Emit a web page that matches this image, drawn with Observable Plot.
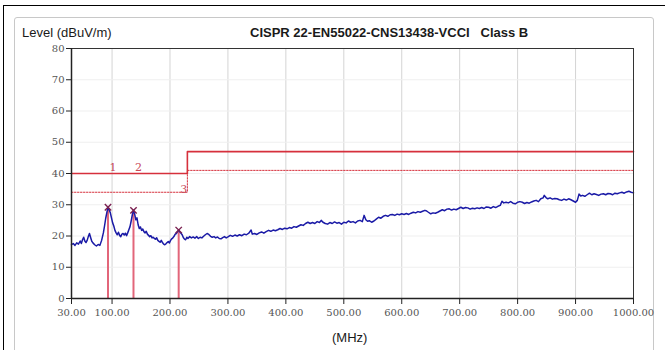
<!DOCTYPE html>
<html>
<head>
<meta charset="utf-8">
<script src="https://cdn.jsdelivr.net/npm/d3@7"></script>
<script src="https://cdn.jsdelivr.net/npm/@observablehq/plot@0.6"></script>
<style>
  html, body { margin: 0; padding: 0; background: #fff; }
  #wrap { position: relative; width: 665px; height: 350px; overflow: hidden; background: #fff; }
  #outer { position: absolute; left: 3px; top: 5px; width: 700px; height: 400px; border-left: 1px solid #000; border-top: 1px solid #000; }
  #inner { position: absolute; left: 14px; top: 17px; width: 638px; height: 400px; border: 1px solid #c8c8c8; border-radius: 3px; }
  #chart { position: absolute; left: 0; top: 0; }
  .lbl { position: absolute; font-family: "Liberation Sans", Arial, sans-serif; font-size: 13px; color: #1a1a1a; white-space: pre; line-height: 15px; }
</style>
</head>
<body>
<div id="wrap">
  <div id="outer"></div>
  <div id="inner"></div>
  <div id="chart"></div>
  <div class="lbl" style="left:22px; top:25px;">Level (dBuV/m)</div>
  <div class="lbl" style="left:250px; top:25px; font-weight:bold;">CISPR 22-EN55022-CNS13438-VCCI   Class B</div>
  <div class="lbl" style="left:332px; top:330px;">(MHz)</div>
</div>
<script>
// ---- data ----
const xTicks = [30, 100, 200, 300, 400, 500, 600, 700, 800, 900, 1000];
const yTicks = [0, 10, 20, 30, 40, 50, 60, 70, 80];

const limitFreq = [30, 230, 230, 1000];
const limitQP = [40, 40, 47, 47];
const limitMargin = [34, 34, 41, 41];

const markerId = ["1", "2", "3"];
const markerFreq = [93, 137, 215];
const markerLevel = [29.2, 28.2, 21.9];

// measured trace: [MHz, dBuV/m]
const trace = [
  [30,17.2],[33,17.6],[36,17.0],[39,17.8],[42,17.4],[45,18.4],[47,17.6],[49,18.8],[51,19.6],[53,18.4],
  [55,17.9],[57,18.6],[59,19.8],[61,20.8],[63,19.5],[65,18.3],[67,17.8],[70,17.2],[73,16.8],[76,17.3],
  [79,17.0],[82,18.6],[85,21.0],[87,23.2],[89,25.6],[91,27.5],[93,29.2],[95,28.4],[97,27.4],[99,25.8],
  [101,24.2],[103,23.2],[105,21.8],[107,21.0],[109,20.4],[111,21.2],[113,20.2],[115,19.8],[117,20.6],[119,20.8],
  [121,20.3],[123,20.9],[125,20.1],[127,21.0],[129,22.0],[131,23.0],[133,24.8],[135,26.8],[137,28.2],[139,27.0],
  [141,25.2],[143,25.8],[145,23.6],[147,22.4],[149,22.9],[151,21.8],[153,22.2],[155,21.4],[157,21.0],[159,21.5],
  [161,20.6],[163,20.2],[165,19.8],[167,20.1],[169,19.4],[171,19.6],[173,19.2],[175,19.0],[177,19.4],[179,18.6],
  [181,18.3],[183,18.0],[185,18.6],[187,17.9],[189,17.4],[191,17.2],[193,17.5],[195,17.9],[197,18.2],[199,17.8],
  [201,18.6],[203,19.1],[205,19.4],[207,19.9],[209,20.6],[211,20.8],[213,21.4],[215,21.9],[217,21.3],[219,20.9],
  [221,20.4],[223,19.5],[225,19.0],[227,18.8],[229,19.6],[231,19.2],[234,19.8],[237,19.4],[240,19.7],[243,19.3],
  [246,19.8],[249,19.2],[252,19.6],[255,19.4],[258,19.9],[261,20.4],[264,20.8],[267,20.5],[270,19.9],[273,19.6],
  [276,19.8],[279,19.4],[282,19.7],[285,19.2],[288,19.1],[291,19.5],[294,19.8],[297,19.4],[300,19.7],[304,20.2],
  [308,19.9],[312,20.3],[316,20.0],[320,20.4],[324,20.1],[328,20.6],[332,20.4],[336,20.9],[340,21.9],[342,20.6],
  [346,20.8],[350,20.5],[354,21.0],[358,21.3],[362,20.9],[366,21.4],[370,21.8],[374,21.5],[378,21.9],[382,21.7],
  [386,22.0],[390,22.4],[394,22.1],[398,22.5],[402,22.3],[406,22.7],[410,22.5],[414,23.0],[418,22.8],[422,23.2],
  [426,23.6],[430,23.4],[434,24.0],[438,24.4],[442,24.0],[446,24.3],[450,24.0],[454,24.6],[458,24.3],[461,25.0],
  [464,24.4],[468,24.0],[472,23.8],[476,24.3],[480,24.0],[484,24.5],[488,24.1],[492,24.3],[496,23.8],[500,24.4],
  [504,24.2],[508,24.8],[512,24.4],[516,24.6],[520,24.2],[524,24.8],[528,25.0],[532,24.6],[535,26.6],[538,25.2],
  [541,24.7],[544,24.9],[548,24.4],[552,24.8],[556,25.4],[560,26.0],[564,25.7],[568,26.3],[572,26.6],[576,26.3],
  [580,26.8],[584,26.9],[588,26.6],[592,27.0],[596,26.8],[600,27.1],[604,26.9],[608,27.2],[612,26.9],[616,27.3],
  [620,27.6],[624,27.4],[628,27.8],[632,27.6],[636,27.9],[640,28.2],[643,28.0],[646,27.6],[650,27.1],[654,27.4],
  [658,27.3],[662,27.6],[666,28.0],[670,28.4],[674,28.1],[678,28.6],[682,28.7],[686,28.3],[690,28.6],[694,28.4],
  [698,28.8],[702,29.2],[706,28.8],[710,29.1],[714,29.0],[718,28.6],[722,28.9],[726,28.7],[730,29.0],[734,28.8],
  [738,29.1],[742,28.8],[746,29.3],[750,29.2],[754,28.9],[758,29.4],[762,29.1],[766,29.5],[770,29.8],[773,31.1],
  [776,30.6],[780,30.8],[784,30.6],[788,31.0],[792,30.5],[796,30.3],[800,30.8],[804,31.0],[808,30.8],[812,30.4],
  [816,30.7],[820,30.5],[824,30.9],[828,31.2],[832,31.4],[836,31.0],[840,31.9],[844,32.2],[846,33.0],[849,32.3],
  [852,31.9],[856,32.2],[860,31.8],[864,32.0],[868,31.9],[872,31.6],[876,31.4],[880,31.8],[884,31.5],[888,31.9],
  [892,31.6],[896,31.2],[900,30.8],[903,31.4],[906,33.4],[909,32.8],[912,33.0],[916,32.7],[920,33.2],[924,33.7],
  [928,33.2],[932,33.5],[936,33.3],[940,33.0],[944,33.4],[948,33.5],[952,33.2],[956,33.6],[960,33.5],[964,33.2],
  [968,33.7],[972,33.5],[976,33.8],[980,34.0],[984,33.7],[988,34.1],[992,34.3],[996,34.0],[1000,33.8]
];

// ---- build tables ----
const limits = limitFreq.map((f, i) => ({f, qp: limitQP[i], mg: limitMargin[i]}));
const markers = markerFreq.map((f, i) => ({id: markerId[i], f, v: markerLevel[i]}));
const traceData = trace.map(([f, v]) => ({f, v}));
const markerLabelY = (m) => m.id === "3" ? 35 : 42;

const red = "#d6303c";
const tickFont = "'DejaVu Serif', 'Liberation Serif', serif";

const chart = Plot.plot({
  width: 665,
  height: 350,
  marginLeft: 71,
  marginRight: 32,
  marginTop: 48,
  marginBottom: 52,
  style: {background: "transparent", overflow: "visible"},
  x: {type: "linear", domain: [30, 1000]},
  y: {domain: [0, 80]},
  marks: [
    Plot.gridX(xTicks, {stroke: "#d4d4d4", strokeOpacity: 1}),
    Plot.gridY(yTicks, {stroke: "#efefef", strokeOpacity: 1}),
    Plot.line(limits, {x: "f", y: "qp", stroke: red, strokeWidth: 1.6}),
    Plot.line(limits, {x: "f", y: "mg", stroke: red, strokeWidth: 1, strokeDasharray: "1.5,1.5"}),
    Plot.ruleX(markers, {x: "f", y1: 0, y2: "v", stroke: "#e2667a", strokeWidth: 2}),
    Plot.line(traceData, {x: "f", y: "v", stroke: "#1a1aa6", strokeWidth: 1.5}),
    Plot.dot(markers, {x: "f", y: "v", symbol: "times", r: 3, stroke: "#7a2050", strokeWidth: 1.4}),
    Plot.text(markers, {x: "f", y: markerLabelY, text: "id", dx: 5, fill: "#c84858", fontSize: 11, fontFamily: tickFont, textAnchor: "middle"}),
    Plot.frame({stroke: "#333", strokeWidth: 1}),
    Plot.ruleY([0], {stroke: "#222", strokeWidth: 1.5}),
    Plot.ruleX([30], {stroke: "#222", strokeWidth: 1.5}),
    Plot.axisX(xTicks, {tickSize: 6, tickPadding: 4, tickFormat: d => d.toFixed(2), fontSize: 10, fontFamily: tickFont, fill: "#555", stroke: "#222", label: null}),
    Plot.axisY(yTicks, {tickSize: 5, tickPadding: 2, fontSize: 10, fontFamily: tickFont, fill: "#555", stroke: "#222", label: null})
  ]
});
document.getElementById("chart").appendChild(chart);
</script>
</body>
</html>
